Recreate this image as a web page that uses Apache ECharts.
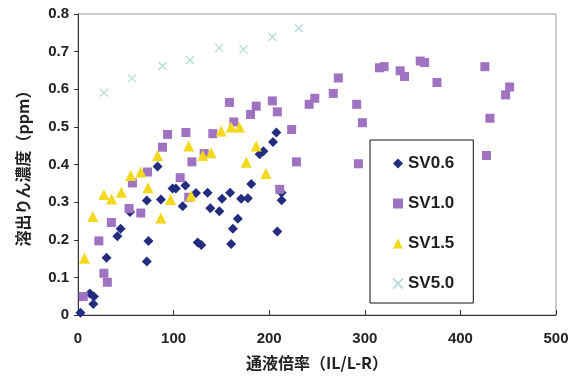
<!DOCTYPE html>
<html>
<head>
<meta charset="utf-8">
<script src="https://cdn.jsdelivr.net/npm/echarts@6/dist/echarts.min.js"></script>
<style>
  html, body { margin: 0; padding: 0; background: #fff; }
  #chart { width: 581px; height: 378px; }
</style>
</head>
<body>
<div id="chart"></div>
<script>
// 通液倍率 vs 溶出りん濃度, 4 series
var sv06 = [
  [2.6,0.006],[12.4,0.057],[16.6,0.049],[16,0.029],[29.9,0.152],[41.2,0.209],[44.6,0.229],
  [54.4,0.274],[72,0.304],[73.7,0.197],[72,0.142],[83.2,0.395],[86.7,0.307],[98.9,0.336],
  [102.4,0.336],[109.5,0.289],[112.4,0.344],[123.4,0.324],[125.2,0.193],[129,0.186],
  [135.5,0.325],[138.4,0.284],[147.9,0.276],[150.7,0.309],[159.1,0.325],[160.2,0.189],
  [162,0.229],[167.2,0.256],[170.7,0.309],[177.7,0.31],[181.2,0.348],[190,0.427],[194,0.435],
  [204,0.46],[207.5,0.485],[208.5,0.222],[213,0.325],[213,0.305]
];
var sv10 = [
  [5.5,0.049],[21.8,0.197],[27.1,0.111],[30.7,0.087],[34.9,0.246],[53.4,0.283],[65.7,0.271],
  [56.9,0.351],[72.7,0.38],[88.4,0.446],[93.7,0.48],[106.9,0.365],[112.9,0.485],[115.8,0.313],
  [119.2,0.407],[132,0.429],[141,0.482],[158.4,0.565],[163,0.513],[180.5,0.533],[186.4,0.555],
  [203.3,0.569],[208.5,0.54],[211,0.334],[223.5,0.493],[228.5,0.407],[241.8,0.56],[247.7,0.576],
  [267,0.589],[272.3,0.63],[291.5,0.56],[297.5,0.511],[293.3,0.402],[315.3,0.657],[320.2,0.66],
  [337,0.649],[341.6,0.634],[358,0.675],[362.6,0.671],[375.5,0.618],[425.6,0.66],[427.3,0.424],
  [430.9,0.523],[447.3,0.585],[451.5,0.606]
];
var sv15 = [
  [6.8,0.151],[15.5,0.262],[27.1,0.32],[35.2,0.308],[45.4,0.326],[55.1,0.371],[65.7,0.38],
  [73.3,0.338],[83.2,0.424],[86.7,0.258],[96.8,0.307],[115.8,0.449],[118.2,0.317],[130.5,0.424],
  [139.2,0.431],[149.7,0.489],[160.2,0.5],[168.9,0.5],[176,0.406],[186.4,0.449],[196.6,0.376]
];
var sv50 = [
  [27.1,0.591],[56.2,0.629],[88.4,0.662],[117.1,0.677],[147.6,0.71],[173.1,0.706],
  [203.3,0.739],[230.9,0.762]
];
var names = ['SV0.6', 'SV1.0', 'SV1.5', 'SV5.0'];

var chart = echarts.init(document.getElementById('chart'));
var labelFont = { fontFamily: 'Liberation Sans', fontWeight: 'bold', fontSize: 15, color: '#222' };
var cjkFont = 'Noto Sans CJK JP';

chart.setOption({
  animation: false,
  backgroundColor: '#fff',
  grid: {
    left: 78, right: 25, top: 14, bottom: 63,
    show: true, borderColor: '#999', borderWidth: 1
  },
  legend: {
    orient: 'vertical',
    left: 370, top: 140,
    padding: [15, 19, 11, 22],
    itemGap: 23,
    itemWidth: 10, itemHeight: 10,
    borderColor: '#111', borderWidth: 1,
    textStyle: { fontFamily: 'Liberation Sans', fontWeight: 'bold', fontSize: 17, color: '#222' },
    data: names
  },
  xAxis: {
    type: 'value', min: 0, max: 500, interval: 100,
    name: '通液倍率（IL/L-R）', nameLocation: 'middle', nameGap: 40,
    nameTextStyle: { fontFamily: cjkFont, fontWeight: 'bold', fontSize: 16, color: '#222' },
    axisLine: { lineStyle: { color: '#333', width: 1 } },
    axisTick: { inside: true, length: 5, lineStyle: { color: '#333' } },
    axisLabel: Object.assign({ margin: 16 }, labelFont),
    splitLine: { show: false }
  },
  yAxis: {
    type: 'value', min: 0, max: 0.8, interval: 0.1,
    name: '溶出りん濃度（ppm）', nameLocation: 'middle', nameGap: 47, nameRotate: 90,
    nameTextStyle: { fontFamily: cjkFont, fontWeight: 'bold', fontSize: 16, color: '#222' },
    axisLine: { show: true, lineStyle: { color: '#333', width: 1 } },
    axisTick: { show: true, length: 4, lineStyle: { color: '#333' } },
    axisLabel: Object.assign({ margin: 9, formatter: function (v) { return v === 0 ? '0' : v.toFixed(1); } }, labelFont),
    splitLine: { show: false }
  },
  series: [
    { name: names[0], type: 'scatter', data: sv06, symbol: 'diamond', symbolSize: 10,
      itemStyle: { color: '#222d80', opacity: 1 } },
    { name: names[1], type: 'scatter', data: sv10, symbol: 'rect', symbolSize: 9,
      itemStyle: { color: '#9f72c2', opacity: 1 } },
    { name: names[2], type: 'scatter', data: sv15, symbol: 'triangle', symbolSize: 11,
      itemStyle: { color: '#f3d81c', opacity: 1 } },
    { name: names[3], type: 'scatter', data: sv50, symbol: 'path://M0,0 L10,10 M10,0 L0,10', symbolSize: 8,
      itemStyle: { color: 'transparent', borderColor: '#b5dcd6', borderWidth: 1.3, opacity: 1 } }
  ]
});
</script>
</body>
</html>
